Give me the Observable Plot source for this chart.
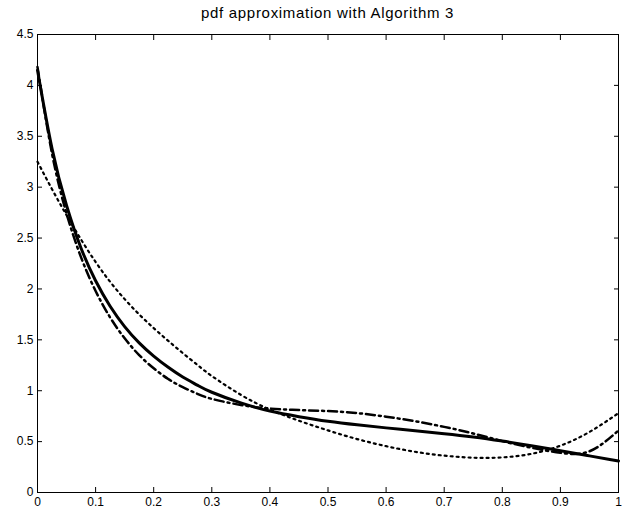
<!DOCTYPE html>
<html>
<head>
<meta charset="utf-8">
<script src="https://cdn.jsdelivr.net/npm/d3@7"></script>
<script src="https://cdn.jsdelivr.net/npm/@observablehq/plot@0.6"></script>
<style>
  html, body { margin: 0; padding: 0; background: #fff; }
  #wrap { width: 625px; height: 511px; position: relative; }
  #title { height: 26px; width: 625px; text-align: center; font-family: "Liberation Sans", Arial, sans-serif;
           font-size: 15px; letter-spacing: 0.7px; line-height: 26px; color: #000; padding-left: 37px; box-sizing: border-box; padding-right: 7px; }
  svg { display: block; }
</style>
</head>
<body>
<div id="wrap">
  <div id="title"></div>
  <div id="chart"></div>
</div>
<script>
const title = "pdf approximation with Algorithm 3";
const xs      = [0, 0.025, 0.05, 0.075, 0.1, 0.125, 0.15, 0.175, 0.2, 0.225, 0.25, 0.275, 0.3, 0.35, 0.4, 0.45, 0.5, 0.55, 0.6, 0.65, 0.7, 0.75, 0.8, 0.85, 0.9, 0.95, 1];
const solid   = [4.15, 3.38, 2.82, 2.40, 2.08, 1.83, 1.63, 1.47, 1.34, 1.23, 1.135, 1.055, 0.985, 0.88, 0.80, 0.745, 0.70, 0.665, 0.635, 0.607, 0.578, 0.545, 0.505, 0.46, 0.41, 0.36, 0.31];
const dashdot = [4.18, 3.33, 2.74, 2.31, 1.98, 1.72, 1.515, 1.35, 1.22, 1.115, 1.035, 0.97, 0.92, 0.86, 0.825, 0.81, 0.80, 0.78, 0.745, 0.70, 0.645, 0.58, 0.505, 0.44, 0.39, 0.405, 0.61];
const dotted  = [3.25, 2.98, 2.725, 2.485, 2.265, 2.07, 1.90, 1.75, 1.615, 1.49, 1.37, 1.255, 1.145, 0.96, 0.815, 0.705, 0.61, 0.525, 0.455, 0.40, 0.362, 0.342, 0.345, 0.38, 0.46, 0.595, 0.78];
const xTicks  = [0, 0.1, 0.2, 0.3, 0.4, 0.5, 0.6, 0.7, 0.8, 0.9, 1];
const xLabels = ["0", "0.1", "0.2", "0.3", "0.4", "0.5", "0.6", "0.7", "0.8", "0.9", "1"];
const yTicks  = [0, 0.5, 1, 1.5, 2, 2.5, 3, 3.5, 4, 4.5];
const yLabels = ["0", "0.5", "1", "1.5", "2", "2.5", "3", "3.5", "4", "4.5"];

document.getElementById("title").textContent = title;

const mk = (ys) => xs.map((x, i) => ({x, y: ys[i]}));
const fmtX = d => xLabels[xTicks.indexOf(d)];
const fmtY = d => yLabels[yTicks.indexOf(d)];

const chart = Plot.plot({
  width: 625,
  height: 485,
  marginLeft: 37,
  marginRight: 7,
  marginTop: 8,
  marginBottom: 19,
  style: {fontFamily: "'Liberation Sans', Arial, sans-serif", fontSize: "12px", color: "#000", background: "#fff"},
  x: {domain: [0, 1]},
  y: {domain: [0, 4.5]},
  marks: [
    Plot.axisX({anchor: "bottom", ticks: xTicks, tickSize: -5, tickPadding: 10, tickFormat: fmtX, label: null}),
    Plot.axisX({anchor: "top", ticks: xTicks, tickSize: -5, tickFormat: null, text: null, label: null}),
    Plot.axisY({anchor: "left", ticks: yTicks, tickSize: -5, tickPadding: 9, tickFormat: fmtY, label: null}),
    Plot.axisY({anchor: "right", ticks: yTicks, tickSize: -5, tickFormat: null, text: null, label: null}),
    Plot.line(mk(dotted), {x: "x", y: "y", stroke: "black", strokeWidth: 2.2, strokeDasharray: "2,4", curve: "natural"}),
    Plot.line(mk(dashdot), {x: "x", y: "y", stroke: "black", strokeWidth: 2.5, strokeDasharray: "9,4,2,4", curve: "natural"}),
    Plot.line(mk(solid), {x: "x", y: "y", stroke: "black", strokeWidth: 3, curve: "natural"}),
    Plot.frame({stroke: "black", strokeWidth: 1})
  ]
});
document.getElementById("chart").appendChild(chart);
</script>
</body>
</html>
